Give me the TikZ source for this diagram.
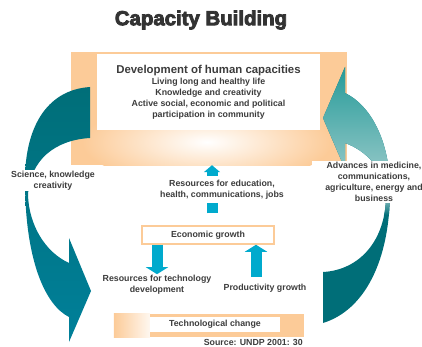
\documentclass[tikz,border=0pt]{standalone}
\usepackage{fontspec}
\setmainfont{Liberation Sans}
\newfontfamily\headfont{Liberation Sans}[UprightFont=*-Bold, FakeBold=4]
\usetikzlibrary{arrows.meta}

\definecolor{peach}{HTML}{FCCB98}
\definecolor{tealdark}{HTML}{006E78}
\definecolor{tealblue}{HTML}{00809A}
\definecolor{tealmid}{HTML}{1E9896}
\definecolor{teallight}{HTML}{A8D0D0}
\definecolor{skyblue}{HTML}{00AACD}
\definecolor{textgray}{HTML}{3C3C3C}

\tikzset{
  lbl/.style={font=\bfseries\fontsize{8.8}{11}\selectfont, text=textgray, align=center, inner sep=1pt},
  bglbl/.style={lbl, fill=white},
  skyarrow/.style={skyblue, line width=11pt, -{Triangle[length=7pt,width=22pt]}},
}

\begin{document}
\begin{tikzpicture}[x=1pt, y=-1pt]
  \useasboundingbox (0,0) rectangle (422,347);

  \node[font=\headfont\fontsize{20.4}{24}\selectfont, text=textgray!85!black] (title) at (201,20) {Capacity Building};

  % human development box
  \node[fill=peach, minimum width=276pt, minimum height=113pt, inner sep=0pt] (capbox) at (209,108.5) {};
  \begin{scope}
    \clip (capbox.south west) rectangle (capbox.north east);
    \shade[inner color=white, outer color=peach] (207,142) ellipse (125pt and 42pt);
  \end{scope}
  \node[lbl, fill=white, minimum width=223pt, minimum height=76pt] (human) at (208.5,92)
    {{\fontsize{11.4}{14}\selectfont Development of human capacities}\\
     Living long and healthy life\\Knowledge and creativity\\
     Active social, economic and political\\participation in community};

  % left bend
  \begin{scope}
    \clip (90,87) -- (90,138) .. controls (55,140) and (30,160) .. (28,195)
      .. controls (29,225) and (45,252) .. (69,263) -- (69,238) -- (91,291)
      -- (69,342) -- (69,317) .. controls (45,305) and (25,260) .. (25,180)
      .. controls (25,130) and (45,90) .. (90,87) -- cycle;
    \shade[top color=tealdark, bottom color=tealblue] (0,85) rectangle (100,345);
  \end{scope}

  % right bend
  \begin{scope}
    \clip (323,118) -- (345,67) -- (345,93) .. controls (370,105) and (390,140) .. (390,190)
      .. controls (390,260) and (365,310) .. (323,323) -- (323,272)
      .. controls (360,270) and (386,240) .. (386,195)
      .. controls (386,170) and (365,150) .. (345,143) -- (345,169) -- cycle;
    \fill[tealdark] (300,60) rectangle (422,347);
    \shade[top color=tealmid, bottom color=teallight] (300,60) rectangle (422,195);
    \shade[top color=teallight, bottom color=tealdark] (300,195) rectangle (422,215);
  \end{scope}

  \node[bglbl] (science) at (53,180.5) {Science, knowledge\\creativity};
  \node[bglbl, minimum width=124pt] (advances) at (374,182)
    {Advances in medicine,\\communications,\\agriculture, energy and\\business};

  % economy
  \node[lbl, draw=peach, line width=1.5pt, fill=white, minimum width=132pt, minimum height=18pt] (econ) at (208,235) {Economic growth};
  \node[bglbl] (techres) at (157,285) {Resources for technology\\development};
  \node[bglbl] (prod) at (265,288) {Productivity growth};

  \coordinate (upfoot) at ([xshift=4pt,yshift=12pt]econ.north);
  \coordinate (uptip) at (upfoot |- capbox.south);
  \draw[skyarrow, -{Triangle[length=7pt,width=16pt]}] (upfoot) -- (uptip);
  \node[bglbl, inner ysep=4pt] (funds) at (222,189.5) {Resources for education,\\health, communications, jobs};

  \draw[skyarrow] (econ.south -| techres) -- (techres.north);
  \coordinate (prodfoot) at ([xshift=-9pt,yshift=6pt]prod.north);
  \draw[skyarrow] (prodfoot) -- (prodfoot |- econ.south);

  % technology box
  \node[fill=peach, minimum width=190pt, minimum height=23pt, inner sep=0pt] (techbox) at (209,325.5) {};
  \shade[left color=peach, right color=peach!15] (techbox.south west) rectangle ([xshift=36pt]techbox.north west);
  \node[lbl, fill=white, minimum width=130pt, minimum height=15pt] (techchange) at (215,324.5) {Technological change};

  \node[lbl, anchor=east] (source) at (304,342.5) {Source: UNDP 2001: 30};
\end{tikzpicture}
\end{document}
